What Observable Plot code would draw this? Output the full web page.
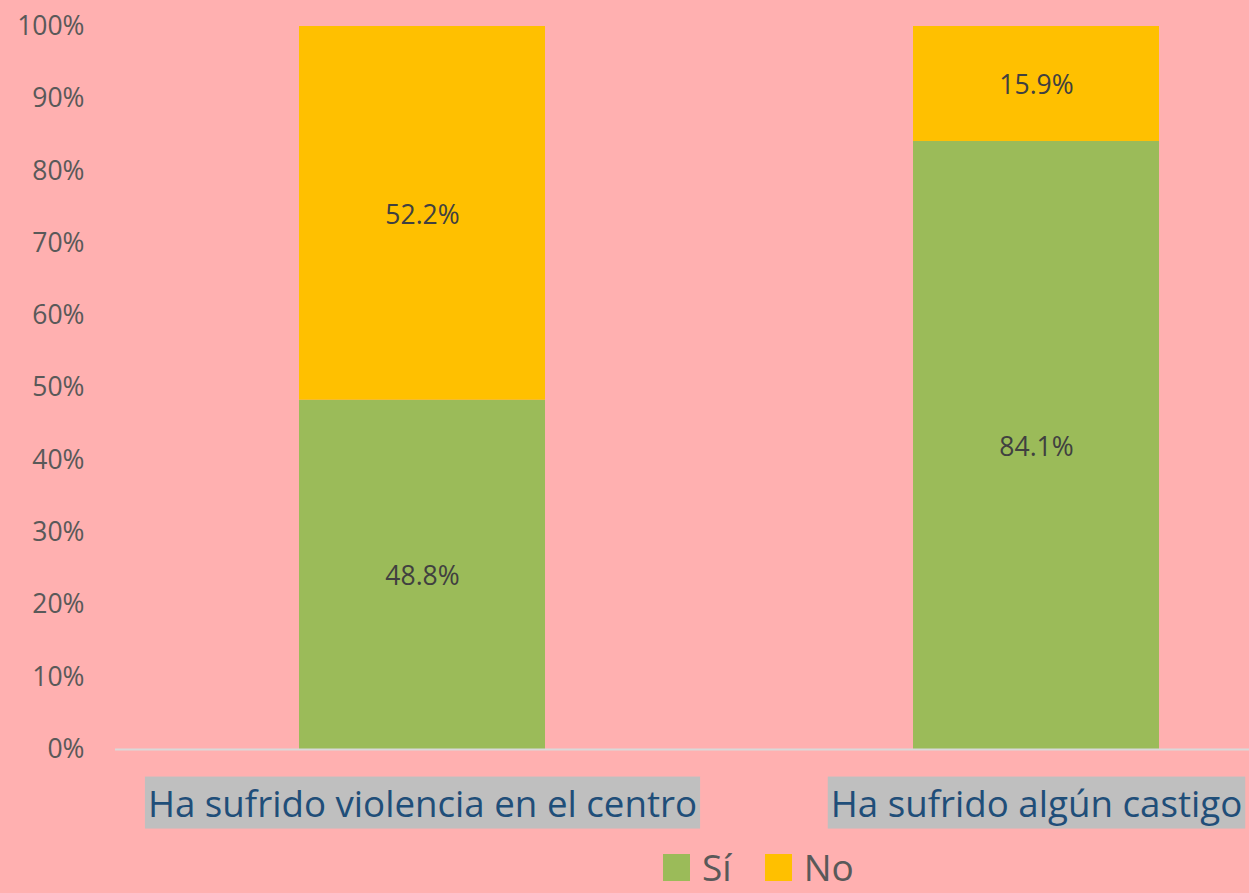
<!DOCTYPE html>
<html><head><meta charset="utf-8">
<script src="https://cdn.jsdelivr.net/npm/d3@7"></script>
<script src="https://cdn.jsdelivr.net/npm/@observablehq/plot@0.6"></script>
<style>
html,body{margin:0;padding:0;background:#FFB0B0;}
#chart{width:1249px;height:893px;overflow:hidden;position:relative;background:#FFB0B0;font-family:"Open Sans",sans-serif;}
#legend{position:absolute;top:847px;left:663px;display:flex;align-items:center;font-size:37px;color:#595959;line-height:40px;height:40px;}
#legend .sw{width:27px;height:27px;display:inline-block;margin-right:12px;}
#legend .it{display:flex;align-items:center;margin-right:33px;}
</style></head><body><div id="chart"></div>
<script>
const categories = ["Ha sufrido violencia en el centro", "Ha sufrido algún castigo"];
const series = ["Sí", "No"];
const siValues = [48.8, 84.1];
const noValues = [52.2, 15.9];
const yTicks = [0, 0.1, 0.2, 0.3, 0.4, 0.5, 0.6, 0.7, 0.8, 0.9, 1];
const colors = ["#9BBB59", "#FFC000"];

const rows = [];
categories.forEach((c, i) => {
  rows.push({cat: c, series: series[0], value: siValues[i]});
  rows.push({cat: c, series: series[1], value: noValues[i]});
});

const chart = document.getElementById("chart");

const plot = Plot.plot({
  width: 1249,
  height: 845,
  marginLeft: 115,
  marginRight: 0,
  marginTop: 26,
  marginBottom: 96,
  style: {background: "transparent", fontFamily: "'Open Sans', sans-serif"},
  x: {domain: categories, range: [115, 1343], paddingInner: 0.6, paddingOuter: 0.3, label: null},
  y: {domain: [0, 1], label: null},
  color: {domain: series, range: colors},
  marks: [
    Plot.barY(rows, Plot.stackY({x: "cat", y: "value", z: "series", fill: "series", offset: "normalize", order: null})),
    Plot.ruleY([0], {stroke: "#D9D9D9", strokeWidth: 2}),
    Plot.text(rows, Plot.stackY({x: "cat", y: "value", z: "series", offset: "normalize", order: null,
      text: d => d.value.toFixed(1) + "%", fill: "#404040", fontSize: 26.5, dy: 2})),
    Plot.axisY({ticks: yTicks, tickFormat: d3.format(".0%"), tickSize: 0, tickPadding: 31, fontSize: 26.5, color: "#595959"}),
    Plot.axisX({tickSize: 0, tickPadding: 41, fontSize: 36.7, color: "#1F4E79"})
  ]
});
chart.appendChild(plot);

// grey boxes behind category labels, sized from the rendered text
plot.querySelectorAll('g[aria-label="x-axis tick label"] text').forEach(t => {
  const b = t.getBBox();
  const r = document.createElementNS("http://www.w3.org/2000/svg", "rect");
  r.setAttribute("x", b.x - 3);
  r.setAttribute("y", b.y + b.height / 2 - 26);
  r.setAttribute("width", b.width + 6);
  r.setAttribute("height", 52);
  r.setAttribute("fill", "#BFBFBF");
  r.setAttribute("stroke", "none");
  if (t.getAttribute("transform")) r.setAttribute("transform", t.getAttribute("transform"));
  t.parentNode.insertBefore(r, t);
});

const legend = document.createElement("div");
legend.id = "legend";
series.forEach((s, i) => {
  const it = document.createElement("div");
  it.className = "it";
  const sw = document.createElement("span");
  sw.className = "sw";
  sw.style.background = colors[i];
  const tx = document.createElement("span");
  tx.textContent = s;
  it.appendChild(sw);
  it.appendChild(tx);
  legend.appendChild(it);
});
chart.appendChild(legend);
</script>
</body></html>
